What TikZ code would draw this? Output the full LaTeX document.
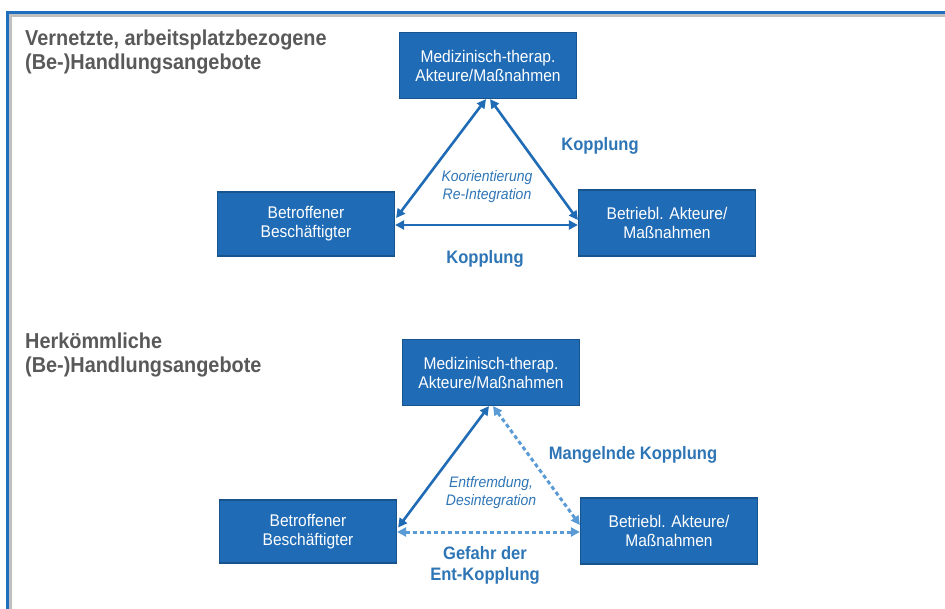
\documentclass[tikz,border=0pt]{standalone}
\usepackage{fontspec}
\setmainfont{Liberation Sans}[FakeStretch=0.92]
\usetikzlibrary{arrows.meta,positioning,calc}
\definecolor{vblue}{HTML}{1F6BB5}
\definecolor{vdeep}{HTML}{17548E}
\definecolor{vtext}{HTML}{2E75B6}
\definecolor{vlight}{HTML}{5B9BD5}
\definecolor{vgrey}{HTML}{595959}
\definecolor{vframe}{HTML}{1F6FBF}
\tikzset{
  box/.style={fill=vblue,draw=vdeep,line width=1.2pt,text=white,align=center,font=\fontsize{16.9}{19}\selectfont,minimum width=177pt,minimum height=66pt,inner sep=2pt},
  head/.style={anchor=north west,align=left,inner sep=0pt,text=vgrey,font=\fontsize{21.6}{24}\selectfont\bfseries},
  lbl/.style={text=vtext,align=center,font=\fontsize{18}{21}\selectfont\bfseries},
  ital/.style={text=vtext,align=center,font=\fontsize{15.2}{18}\selectfont\itshape},
  arr/.style={{Triangle[length=9pt,width=9pt]}-{Triangle[length=9pt,width=9pt]},line width=2.6pt,draw=vblue},
  darr/.style={arr,draw=vlight,line width=3pt,dash pattern=on 4pt off 3pt},
}
\begin{document}
\begin{tikzpicture}[x=1pt,y=-1pt]
\useasboundingbox (0,0) rectangle (945,608);
\clip (0,0) rectangle (945,608);
% frame
\draw[black!25,line width=3pt] (10,620) |- (960,15);
\draw[vframe,line width=3pt] (7,620) |- (960,12);
% networked offers
\node[head] (headA) at (25,30) {Vernetzte, arbeitsplatzbezogene\\(Be-)Handlungsangebote};
\node[box] (medA) at (488,65.5) {Medizinisch-therap.\\Akteure/Maßnahmen};
\node[box,minimum height=64pt] (betA) at (306,224) {Betroffener\\Beschäftigter};
\node[box] (betrA) at (667,223) {Betriebl. Akteure/\\Maßnahmen};
\draw[arr] ($(medA.south)+(-2,0)$) -- ($(betA.east)+(1,-6)$);
\draw[arr] ($(medA.south)+(2,0)$) -- ($(betrA.west)+(0,-3)$);
\draw[arr] ($(betA.east)+(0,1)$) -- ($(betrA.west)+(0,2)$);
\node[ital] (koA) at (487,187) {Koorientierung\\Re-Integration};
\node[lbl] (kopA) at (600,146) {Kopplung};
\node[lbl] (kopB) at (485,259) {Kopplung};
% conventional offers
\node[head] (headB) at (25,333) {Herkömmliche\\(Be-)Handlungsangebote};
\node[box] (medB) at (491,372.5) {Medizinisch-therap.\\Akteure/Maßnahmen};
\node[box,minimum height=63pt] (betB) at (308,531.5) {Betroffener\\Beschäftigter};
\node[box] (betrB) at (669,531) {Betriebl. Akteure/\\Maßnahmen};
\draw[arr] ($(medB.south)+(-2,0)$) -- ($(betB.east)+(1,-4)$);
\draw[darr] ($(medB.south)+(2,0)$) -- ($(betrB.west)+(0,-6)$);
\draw[darr] ($(betB.east)+(0,0.5)$) -- ($(betrB.west)+(0,1)$);
\node[ital] (entB) at (491,493) {Entfremdung,\\Desintegration};
\node[lbl] (manB) at (633,455) {Mangelnde Kopplung};
\node[lbl] (gefB) at (485,565) {Gefahr der\\Ent-Kopplung};
\end{tikzpicture}
\end{document}
